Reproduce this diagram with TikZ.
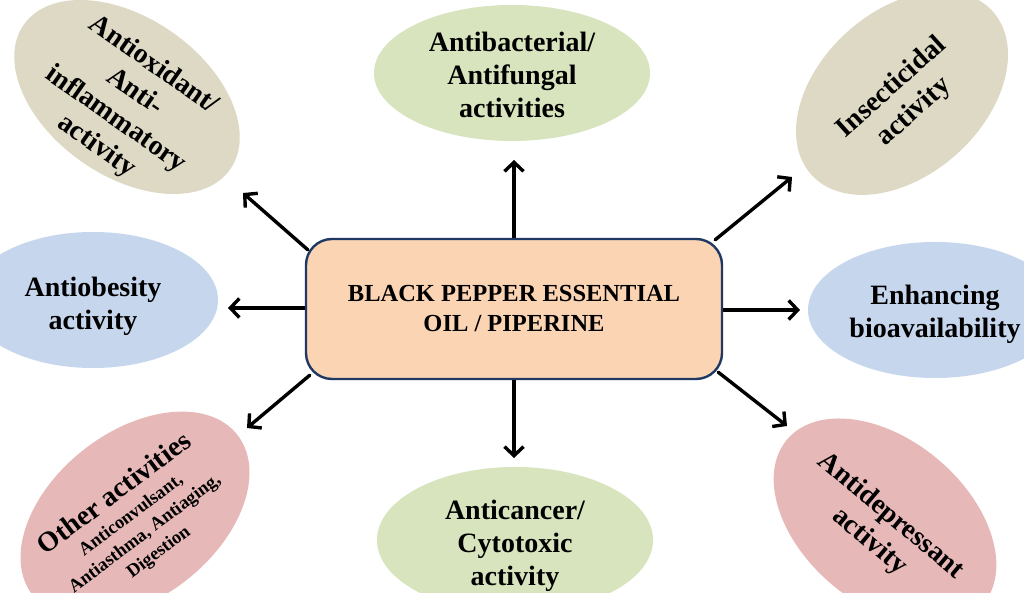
\documentclass[tikz,border=0pt]{standalone}
\usepackage{fontspec}
\setmainfont{Liberation Serif}
\usetikzlibrary{shapes.geometric,arrows.meta}
\definecolor{tanE}{HTML}{DDD9C4}
\definecolor{greenE}{HTML}{D7E4BD}
\definecolor{blueE}{HTML}{C6D6EC}
\definecolor{pinkE}{HTML}{E6B9B8}
\definecolor{peachB}{HTML}{FBD4B4}
\definecolor{navyB}{HTML}{1F3864}
\pgfdeclarelayer{back}
\pgfdeclarelayer{mid}
\pgfsetlayers{back,mid,main}
\begin{document}
\begin{tikzpicture}[x=1pt,y=1pt,
  bub/.style={ellipse, draw=none, inner sep=0pt},
  lbl/.style={align=center, font=\bfseries\fontsize{28}{33}\selectfont, inner sep=0pt},
  arr/.style={line width=3.4pt, line cap=round, line join=round, -{Straight Barb[length=9pt,width=19pt]}},
]
\useasboundingbox (0,0) rectangle (1024,593);
\clip (0,0) rectangle (1024,593);
\begin{pgfonlayer}{back}
\fill[white] (0,0) rectangle (1024,593);
\end{pgfonlayer}

% ellipses
\node[bub, fill=tanE, minimum width=252pt, minimum height=158pt, rotate=-35] (tl) at (127,496) {};
\node[bub, fill=greenE, minimum width=276pt, minimum height=136pt] (t) at (512,520) {};
\node[bub, fill=tanE, minimum width=244pt, minimum height=164pt, rotate=42] (tr) at (902,500) {};
\node[bub, fill=blueE, minimum width=250pt, minimum height=136pt] (l) at (93,293) {};
\node[bub, fill=blueE, minimum width=254pt, minimum height=136pt] (r) at (935,283) {};
\node[bub, fill=pinkE, minimum width=260pt, minimum height=166pt, rotate=38] (bl) at (135,78) {};
\node[bub, fill=greenE, minimum width=276pt, minimum height=146pt] (b) at (515,53) {};
\node[bub, fill=pinkE, minimum width=256pt, minimum height=164pt, rotate=-40] (br) at (885,71) {};

% labels
\node[lbl, rotate=-35] (tlT) at (125,487) {Antioxidant/\\Anti-\\inflammatory\\activity};
\node[lbl] (tT) at (512,518) {Antibacterial/\\Antifungal\\activities};
\node[lbl, rotate=42] (trT) at (903,493) {Insecticidal\\activity};
\node[lbl] (lT) at (93,287) {Antiobesity\\activity};
\node[lbl] (rT) at (935,279) {Enhancing\\bioavailability};
\node[lbl] (bT) at (515,47) {Anticancer/\\Cytotoxic\\activity};
\node[lbl, rotate=-40] (brT) at (880,64) {Antidepressant\\activity};
\node[align=center, inner sep=0pt, rotate=37, font=\bfseries\fontsize{18.5}{23}\selectfont] (blT) at (136,71)
  {{\fontsize{28}{30}\selectfont Other activities}\\[1pt] Anticonvulsant,\\ Antiasthma, Antiaging,\\ Digestion};

% centre box
\node[draw=navyB, line width=2.4pt, fill=peachB, rounded corners=26pt,
      minimum width=416pt, minimum height=140pt, align=center,
      font=\bfseries\fontsize{24.5}{30}\selectfont] (box) at (514,284)
  {BLACK PEPPER ESSENTIAL\\OIL / PIPERINE};

% arrow tips
\coordinate (tlTip) at (243,400);
\coordinate (tTip) at (514,433);
\coordinate (trTip) at (792,416);
\coordinate (lTip) at (228,285);
\coordinate (rTip) at (800,283);
\coordinate (blTip) at (247,165);
\coordinate (bTip) at (514,135);
\coordinate (brTip) at (787,167);

\begin{pgfonlayer}{mid}
\draw[arr] ([shift={(3,-12)}]box.north west) -- (tlTip);
\draw[arr] (box.north) -- (tTip);
\draw[arr] ([shift={(-8,-2)}]box.north east) -- (trTip);
\draw[arr] (box.west |- lTip) -- (lTip);
\draw[arr] (box.east |- rTip) -- (rTip);
\draw[arr] ([shift={(5,5)}]box.south west) -- (blTip);
\draw[arr] (box.south) -- (bTip);
\draw[arr] ([shift={(-5,8)}]box.south east) -- (brTip);
\end{pgfonlayer}
\end{tikzpicture}
\end{document}
